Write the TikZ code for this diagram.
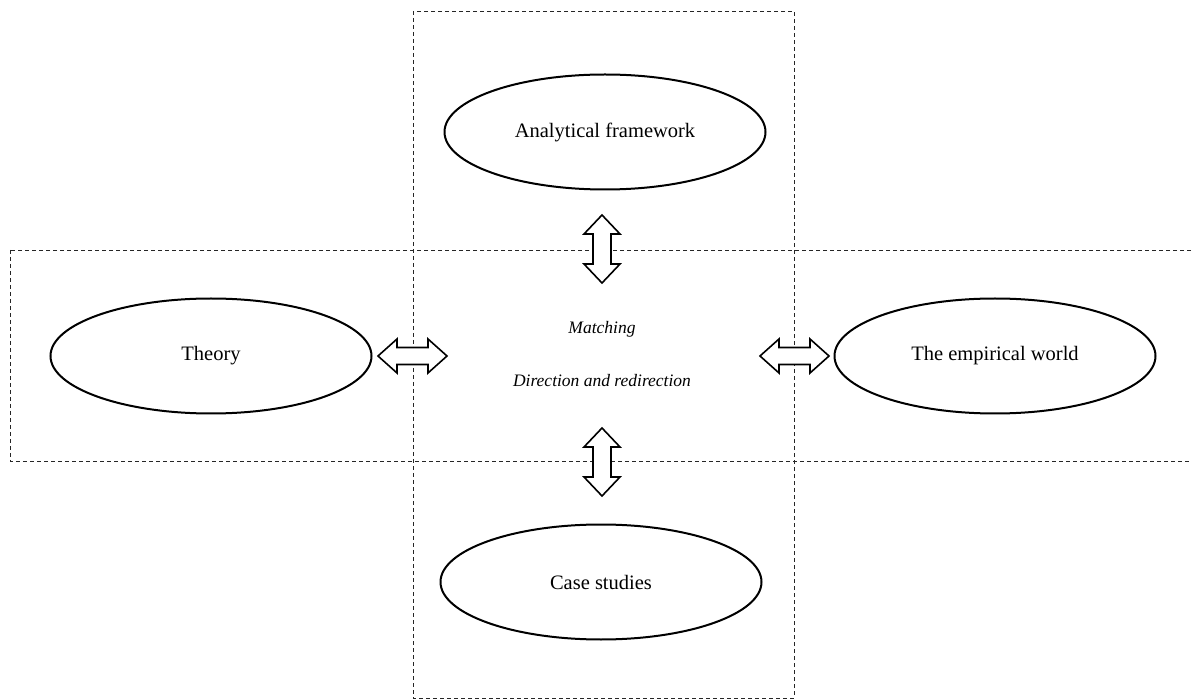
\documentclass[tikz,border=0pt]{standalone}
\usepackage{fontspec}
\setmainfont{Liberation Serif}
\usetikzlibrary{calc,shapes.geometric}
\begin{document}
\begin{tikzpicture}[x=1pt,y=-1pt,
  zone/.style={draw=black!85, line width=0.8pt, dash pattern=on 4pt off 3pt},
  idea/.style={draw, ellipse, line width=2pt, inner sep=0pt,
    minimum width=321pt, minimum height=115pt, font=\fontsize{20.5}{24}\selectfont},
  label/.style={font=\fontsize{17.5}{20}\selectfont\itshape, inner sep=0pt},
  fat/.style={draw, line width=1.6pt, fill=white, line join=miter}
]
\useasboundingbox (0,0) rectangle (1192,700);
\begin{scope}
\clip (0,0) rectangle (1192,700);
% the two overlapping dashed fields
\draw[zone] (413,11) rectangle (794,698);
\draw[zone] (10,250) rectangle (1205,461);
\end{scope}

% concepts
\node[idea] (frame) at (605,132) {Analytical framework};
\node[idea] (theory) at (211,356) {Theory};
\node[idea] (world) at (995,356) {The empirical world};
\node[idea] (cases) at (601,582) {Case studies};

% centre labels
\node[label] (match) at (602,329) {Matching};
\node[label] (redir) at (602,381) {Direction and redirection};

% arrow end points
\coordinate (tL1) at (378,356); \coordinate (tL2) at (447,356);
\coordinate (tR1) at (760,356); \coordinate (tR2) at (829,356);
\coordinate (tU1) at (602,215); \coordinate (tU2) at (602,283);
\coordinate (tD1) at (602,428); \coordinate (tD2) at (602,496);

% horizontal double arrows
\foreach \a/\b in {tL1/tL2, tR1/tR2}{
  \draw[fat] let \p1=(\a), \p2=(\b) in
    (\x1,\y1) -- (\x1+19pt,\y1+17pt) -- (\x1+19pt,\y1+8.5pt) -- (\x2-19pt,\y1+8.5pt)
    -- (\x2-19pt,\y1+17pt) -- (\x2,\y2) -- (\x2-19pt,\y1-17pt) -- (\x2-19pt,\y1-8.5pt)
    -- (\x1+19pt,\y1-8.5pt) -- (\x1+19pt,\y1-17pt) -- cycle;
}
% vertical double arrows
\foreach \a/\b in {tU1/tU2, tD1/tD2}{
  \draw[fat] let \p1=(\a), \p2=(\b) in
    (\x1,\y1) -- (\x1+18pt,\y1-19pt) -- (\x1+9pt,\y1-19pt) -- (\x1+9pt,\y2+19pt)
    -- (\x1+18pt,\y2+19pt) -- (\x2,\y2) -- (\x1-18pt,\y2+19pt) -- (\x1-9pt,\y2+19pt)
    -- (\x1-9pt,\y1-19pt) -- (\x1-18pt,\y1-19pt) -- cycle;
}
\end{tikzpicture}
\end{document}
